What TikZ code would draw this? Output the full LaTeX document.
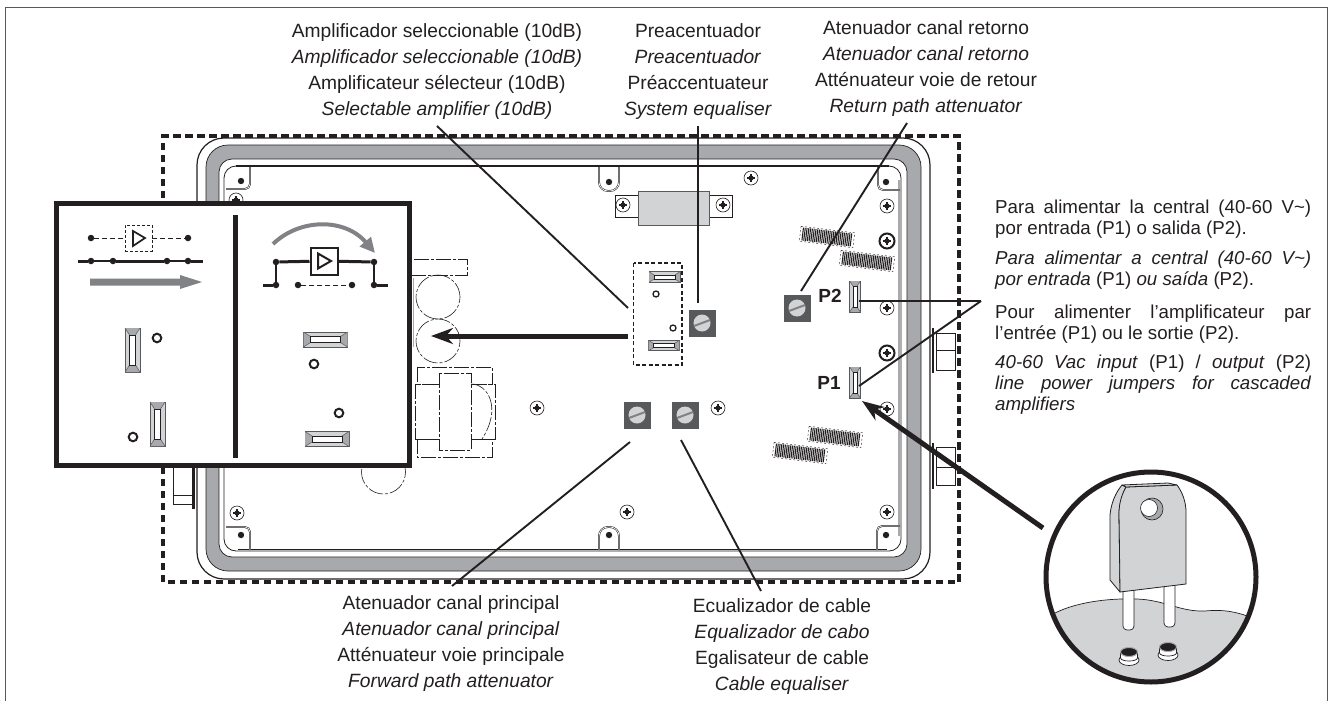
\documentclass[tikz,border=0pt]{standalone}
\usepackage{fontspec}
\setmainfont{Liberation Sans}
\usetikzlibrary{arrows.meta,positioning}

\definecolor{inkblack}{HTML}{231F20}
\definecolor{sealgray}{HTML}{A7A9AC}
\definecolor{lightgray}{HTML}{D1D3D4}
\definecolor{darkgray}{HTML}{58595B}
\definecolor{arrowgray}{HTML}{808285}

\tikzset{
  lbl/.style={align=center,inner sep=0pt,text=inkblack,font=\fontsize{19.2}{26}\selectfont},
  para/.style={anchor=north west,inner sep=0pt,text width=316pt,align=justify,text=inkblack,font=\fontsize{18.7}{21}\selectfont},
  pin/.style={inner sep=0pt,text=inkblack,font=\fontsize{19}{21}\selectfont\bfseries},
  leader/.style={draw=inkblack,line width=1.9pt},
  bigarrow/.style={draw=inkblack,fill=inkblack,line width=5pt,-{Stealth[length=22pt,width=16pt]}},
  dashdot/.style={draw=inkblack,line width=.6pt,dash pattern=on 15pt off 2pt on 3pt off 2pt},
  dot/.style={circle,fill=inkblack,inner sep=0pt,minimum size=6.5pt},
  tabline/.style={draw=inkblack,line width=.55pt,double=white,double distance=.7pt},
  screw/.pic={
    \draw[fill=white,draw=inkblack,line width=.6pt] (0,0) circle (7pt);
    \fill[inkblack] (0,0) circle (2.6pt);
    \draw[inkblack,line width=1.3pt] (-4,0) -- (4,0) (0,-4) -- (0,4);
  },
  bigscrew/.pic={
    \draw[fill=white,draw=inkblack,line width=2pt] (0,0) circle (7.5pt);
    \fill[inkblack] (0,0) circle (2.6pt);
    \draw[inkblack,line width=1.3pt] (-4,0) -- (4,0) (0,-4) -- (0,4);
  },
  trimmer/.pic={
    \fill[darkgray] (-13.5,-13.5) rectangle (13.5,13.5);
    \fill[lightgray] (0,0) circle (8.5pt);
    \draw[arrowgray,line width=2pt] (-8,3) -- (8,-3);
  },
  jumper/.pic={
    \draw[fill=lightgray,draw=darkgray,line width=.7pt] (-22,-7.5) rectangle (22,7.5);
    \fill[sealgray] (-22,-7.5) -- (-15,-3) -- (-15,3) -- (-22,7.5) -- cycle;
    \fill[sealgray] (22,-7.5) -- (15,-3) -- (15,3) -- (22,7.5) -- cycle;
    \draw[darkgray,line width=.5pt] (-22,-7.5) -- (-15,-3) (-22,7.5) -- (-15,3) (22,-7.5) -- (15,-3) (22,7.5) -- (15,3);
    \draw[fill=white,draw=inkblack,line width=.6pt] (-15,-3) rectangle (15,3);
  },
  coil/.pic={
    \draw[inkblack,line width=13pt,dash pattern=on 1.05pt off .75pt] (-25,0) -- (25,0);
    \draw[inkblack,line width=.4pt,dash pattern=on 2pt off 2pt] (-27,-7.5) rectangle (27,7.5);
  },
  socket/.pic={
    \draw[fill=white,draw=inkblack,line width=.7pt] (0,5) ellipse (10pt and 5.5pt);
    \draw[fill=white,draw=inkblack,line width=.7pt] (-8.5,-3) -- (-8.5,3) .. controls (-8,7) and (8,7) .. (8.5,3) -- (8.5,-3) -- cycle;
    \draw[fill=inkblack,draw=sealgray,line width=1pt] (0,-3) ellipse (8.5pt and 4.5pt);
  },
}

\begin{document}
\begin{tikzpicture}[x=1pt,y=-1pt]
  \useasboundingbox (0,0) rectangle (1330,701);

  % page frame
  \draw[darkgray,line width=.9pt] (5,701) -- (5,7) -- (1327,7) -- (1327,701);

  % side connectors
  \draw[inkblack,line width=.7pt] (936,333) rectangle (955,370) (936,350) -- (955,350);
  \draw[inkblack,line width=.7pt] (936,447) rectangle (955,485) (936,467) -- (955,467);
  \draw[inkblack,line width=.7pt] (173,460) rectangle (192,504) (173,495) -- (192,495);
  \draw[inkblack,line width=2.5pt] (933,328) -- (933,373);
  \draw[inkblack,line width=2.5pt] (933,443) -- (933,489);
  \draw[inkblack,line width=2.5pt] (193.5,460) -- (193.5,509);

  % box and seal
  \draw[inkblack,line width=1.2pt,rounded corners=27pt] (197,138) rectangle (930,579);
  \draw[inkblack,fill=sealgray,line width=.7pt,rounded corners=22pt] (206,145) rectangle (921,571);
  \draw[inkblack,fill=white,line width=.7pt,rounded corners=13pt] (219,159) rectangle (907,557);
  \draw[inkblack,line width=.8pt,rounded corners=12pt] (224,166) rectangle (901,551);
  \draw[inkblack,line width=.6pt] (238,549) -- (887,549);
  \draw[sealgray,line width=1.5pt] (899,180) -- (899,536);
  \draw[inkblack,line width=2pt] (236,166) -- (889,166);
  \draw[inkblack,line width=3.7pt,dash pattern=on 7.5pt off 4.5pt] (163,582) -- (163,136) -- (959,136) -- (959,582) -- cycle;

  % tabs
  \draw[tabline,rounded corners=5pt] (226,189) -- (250,189) -- (250,167);
  \draw[tabline,rounded corners=5pt] (878,167) -- (878,190) -- (900,190);
  \draw[tabline,rounded corners=5pt] (226,527) -- (250,527) -- (250,550);
  \draw[tabline,rounded corners=5pt] (877,550) -- (877,526) -- (900,526);
  \draw[tabline,rounded corners=9pt] (599,167) -- (599,191) -- (619,191) -- (619,167);
  \draw[tabline,rounded corners=9pt] (599,550) -- (599,527) -- (619,527) -- (619,550);
  \foreach \tx/\ty in {241/181,609/182,886/182,241/535,609/535,886/535}
    \fill[inkblack] (\tx,\ty) circle (3.2pt);

  % bracket on top
  \draw[inkblack,line width=.7pt] (615,195) rectangle (732,217);
  \draw[darkgray,fill=lightgray,line width=.8pt] (638,191) rectangle (709,225);
  \foreach \sx/\sy in {623/205,723/205,751/178,887/206,887/308,887/409,887/512,718/408,537/408,237/513,627/512,236/200}
    \pic at (\sx,\sy) {screw};
  \pic at (887,241) {bigscrew};
  \pic at (887,353) {bigscrew};

  % coils
  \pic[rotate=-7] at (827,237) {coil};
  \pic[rotate=-7] at (867,261) {coil};
  \pic[rotate=-7] at (835,437) {coil};
  \pic[rotate=-7] at (800,453) {coil};

  % outline of the parts under the board
  \draw[dashdot] (405,259) rectangle (467,275);
  \draw[dashdot] (438,297) circle (22pt);
  \draw[dashdot] (438,341) circle (22pt);
  \draw[sealgray,line width=1pt] (413,278) -- (413,347);
  \draw[dashdot] (417,367) rectangle (492,384);
  \draw[dashdot] (415,384) rectangle (495,439);
  \draw[dashdot] (417,439) rectangle (492,457);
  \draw[dashdot,fill=white] (439,373) rectangle (471,450);
  \draw[dashdot] (471,384) .. controls (488,384) and (502,408) .. (482,439);
  \draw[dashdot] (383.5,472) circle (22pt);

  % selector on the board
  \draw[inkblack,line width=1.6pt,dash pattern=on 4pt off 2.5pt] (633.5,263) rectangle (682,365);
  \pic[scale=.7] at (664.5,277) {jumper};
  \pic[scale=.7] at (664,345.5) {jumper};
  \draw[inkblack,line width=1.3pt] (656,294) circle (3pt);
  \draw[inkblack,line width=1.3pt] (673,328) circle (3pt);

  \pic (trimpre) at (702,323) {trimmer};
  \pic (trimret) at (797,308) {trimmer};
  \pic (trimfwd) at (637,415) {trimmer};
  \pic (trimcab) at (685,415) {trimmer};

  \pic[rotate=90,scale=.7] at (855,296.5) {jumper};
  \pic[rotate=90,scale=.7] at (855,382.5) {jumper};
  \node[pin] (ptwo) at (830,296) {P2};
  \node[pin] (pone) at (829,383) {P1};

  % inset
  \draw[inkblack,fill=white,line width=5pt] (56.5,203.5) rectangle (409.5,465.5);
  \coordinate (divtop) at (235,215);
  \coordinate (divbot) at (235,458);
  \draw[inkblack,line width=5pt] (divtop) -- (divbot);

  % inset, left half
  \node[dot] (la) at (91,238) {};
  \node[dot] (lb) at (188,238) {};
  \node[draw=inkblack,dash pattern=on 3pt off 2pt,line width=.7pt,minimum width=27pt,minimum height=26pt,inner sep=0pt] (ampoff) at (138.5,238) {};
  \draw[inkblack,line width=1.7pt,line join=miter] (133,231) -- (133,246) -- (145,238) -- cycle;
  \path[draw=inkblack,line width=.8pt,dash pattern=on 5pt off 3pt]
    (la) edge (ampoff)
    (ampoff) edge (lb);
  \coordinate (lw) at (78,261);
  \coordinate (le) at (203,261);
  \node[dot] (lc) at (91,261) {};
  \node[dot] (ld) at (113,261) {};
  \node[dot] (lf) at (167,261) {};
  \node[dot] (lg) at (188,261) {};
  \path[draw=inkblack,line width=3pt]
    (lw) edge (lc)
    (ld) edge (lf)
    (lg) edge (le);
  \path[draw=inkblack,line width=1.2pt]
    (lc) edge (ld)
    (lf) edge (lg);
  \fill[arrowgray] (90,278.5) -- (180,278.5) -- (180,275) -- (202,282) -- (180,289) -- (180,285.5) -- (90,285.5) -- cycle;
  \pic[rotate=90] at (132.5,350) {jumper};
  \pic[rotate=90] at (157.5,424) {jumper};
  \draw[inkblack,line width=2pt] (157,338) circle (4.3pt);
  \draw[inkblack,line width=2pt] (133,437) circle (4.3pt);

  % inset, right half
  \draw[arrowgray,line width=4pt,-{Triangle[length=15pt,width=14pt]}] (273,244) .. controls (300,218) and (345,218) .. (375,253);
  \node[dot] (ra) at (276,262) {};
  \node[dot] (rb) at (374,262) {};
  \node[draw=inkblack,fill=white,line width=2pt,minimum size=27pt,inner sep=0pt] (ampon) at (324,261) {};
  \draw[inkblack,line width=2pt,line join=miter] (318,253.5) -- (318,268.5) -- (331,261) -- cycle;
  \coordinate (rw) at (263,285);
  \coordinate (re) at (388,285);
  \node[dot] (rc) at (276,285) {};
  \node[dot] (rd) at (298,285) {};
  \node[dot] (rf) at (352,285) {};
  \node[dot] (rg) at (374,285) {};
  \path[draw=inkblack,line width=3pt]
    (rw) edge (rc)
    (rg) edge (re)
    (ra) edge (ampon)
    (ampon) edge (rb);
  \path[draw=inkblack,line width=1.4pt]
    (ra) edge (rc)
    (rb) edge (rg);
  \path[draw=inkblack,line width=.9pt,dash pattern=on 5pt off 3pt]
    (rd) edge (rf);
  \pic at (325.5,339.5) {jumper};
  \pic at (327,439) {jumper};
  \draw[inkblack,line width=2pt] (314,364) circle (4.3pt);
  \draw[inkblack,line width=2pt] (339,413) circle (4.3pt);

  % detail of the jumper
  \begin{scope}
    \clip (1151,577) circle (105pt);
    \draw[inkblack,fill=lightgray,line width=.7pt] (1040,620) -- (1055,613) .. controls (1075,603) and (1105,598) .. (1137,599) .. controls (1165,600) and (1180,612) .. (1205,611) .. controls (1225,609) and (1240,612) .. (1262,622) -- (1262,690) -- (1040,690) -- cycle;
  \end{scope}
  \draw[inkblack,fill=white,line width=.7pt,rounded corners=4pt] (1123,585) -- (1123,630) -- (1134,630) -- (1134,585);
  \draw[inkblack,fill=white,line width=.7pt,rounded corners=4pt] (1164,580) -- (1164,627) -- (1175,627) -- (1175,580);
  \pic at (1129,655) {socket};
  \pic at (1168,650) {socket};
  \draw[inkblack,fill=lightgray,line width=.8pt,line join=round] (1119,513) .. controls (1120,500) and (1123,493) .. (1126,487) -- (1122,485) .. controls (1116,492) and (1111,503) .. (1110,515) -- (1110,580) -- (1120,592) -- cycle;
  \draw[inkblack,fill=lightgray,line width=.8pt,line join=round] (1120,592) -- (1186,584) -- (1186,512) .. controls (1186,503) and (1183,493) .. (1177,485) -- (1126,487) .. controls (1122,494) and (1119,503) .. (1119,513) -- cycle;
  \draw[inkblack,fill=lightgray,line width=.8pt,line join=round] (1122,485) -- (1168,483) -- (1177,485) -- (1126,487) -- cycle;
  \draw[inkblack,fill=sealgray,line width=.6pt] (1152,509) circle (11pt);
  \draw[inkblack,fill=white,line width=.6pt] (1149,508) circle (8.5pt);
  \node[draw=inkblack,circle,line width=5pt,minimum size=210pt,inner sep=0pt] (detail) at (1151,577) {};

  % labels
  \node[lbl,anchor=north] (lblamp) at (437,23) {Amplificador seleccionable (10dB)\\\textit{Amplificador seleccionable (10dB)}\\Amplificateur sélecteur (10dB)\\\textit{Selectable amplifier (10dB)}};
  \node[lbl,anchor=north] (lblpre) at (698,23) {Preacentuador\\\textit{Preacentuador}\\Préaccentuateur\\\textit{System equaliser}};
  \node[lbl,anchor=north] (lblret) at (926,20) {Atenuador canal retorno\\\textit{Atenuador canal retorno}\\Atténuateur voie de retour\\\textit{Return path attenuator}};
  \node[lbl,anchor=north] (lblfwd) at (451,595) {Atenuador canal principal\\\textit{Atenuador canal principal}\\Atténuateur voie principale\\\textit{Forward path attenuator}};
  \node[lbl,anchor=north] (lblcab) at (782,598) {Ecualizador de cable\\\textit{Equalizador de cabo}\\Egalisateur de cable\\\textit{Cable equaliser}};

  \node[para] (txtes) at (995,200) {Para alimentar la central (40-60 V\textasciitilde)\linebreak por entrada (P1) o salida (P2).};
  \node[para] (txtpt) at (995,251) {\textit{Para alimentar a central (40-60 V\textasciitilde)\linebreak por entrada} (P1) \textit{ou saída} (P2).};
  \node[para] (txtfr) at (995,305) {Pour alimenter l’amplificateur par\linebreak l’entrée (P1) ou le sortie (P2).};
  \node[para] (txten) at (995,355) {\textit{40-60 Vac input} (P1) / \textit{output} (P2)\linebreak \textit{line power jumpers for cascaded}\linebreak \textit{amplifiers}};

  % leaders
  \coordinate (ampstart) at (437,126);
  \coordinate (ampend) at (628,308);
  \coordinate (prestart) at (698,126);
  \coordinate (preend) at (698,303);
  \coordinate (retstart) at (907,123);
  \coordinate (retend) at (801,291);
  \coordinate (fwdstart) at (452,586);
  \coordinate (fwdend) at (630,442);
  \coordinate (cabstart) at (761,591);
  \coordinate (cabend) at (681,440);
  \coordinate (powertip) at (981,301);
  \coordinate (ptwoend) at (859,301);
  \coordinate (poneend) at (859,386);
  \coordinate (swstart) at (628,336);
  \coordinate (swtip) at (431,336);
  \coordinate (detstart) at (1043,528);
  \coordinate (dettip) at (862,401);

  \path[leader]
    (ampstart) edge (ampend)
    (prestart) edge (preend)
    (retstart) edge (retend)
    (fwdstart) edge (fwdend)
    (cabstart) edge (cabend)
    (ptwoend) edge (powertip)
    (poneend) edge (powertip);
  \draw[bigarrow] (swstart) -- (swtip);
  \draw[bigarrow] (detstart) -- (dettip);
\end{tikzpicture}
\end{document}
